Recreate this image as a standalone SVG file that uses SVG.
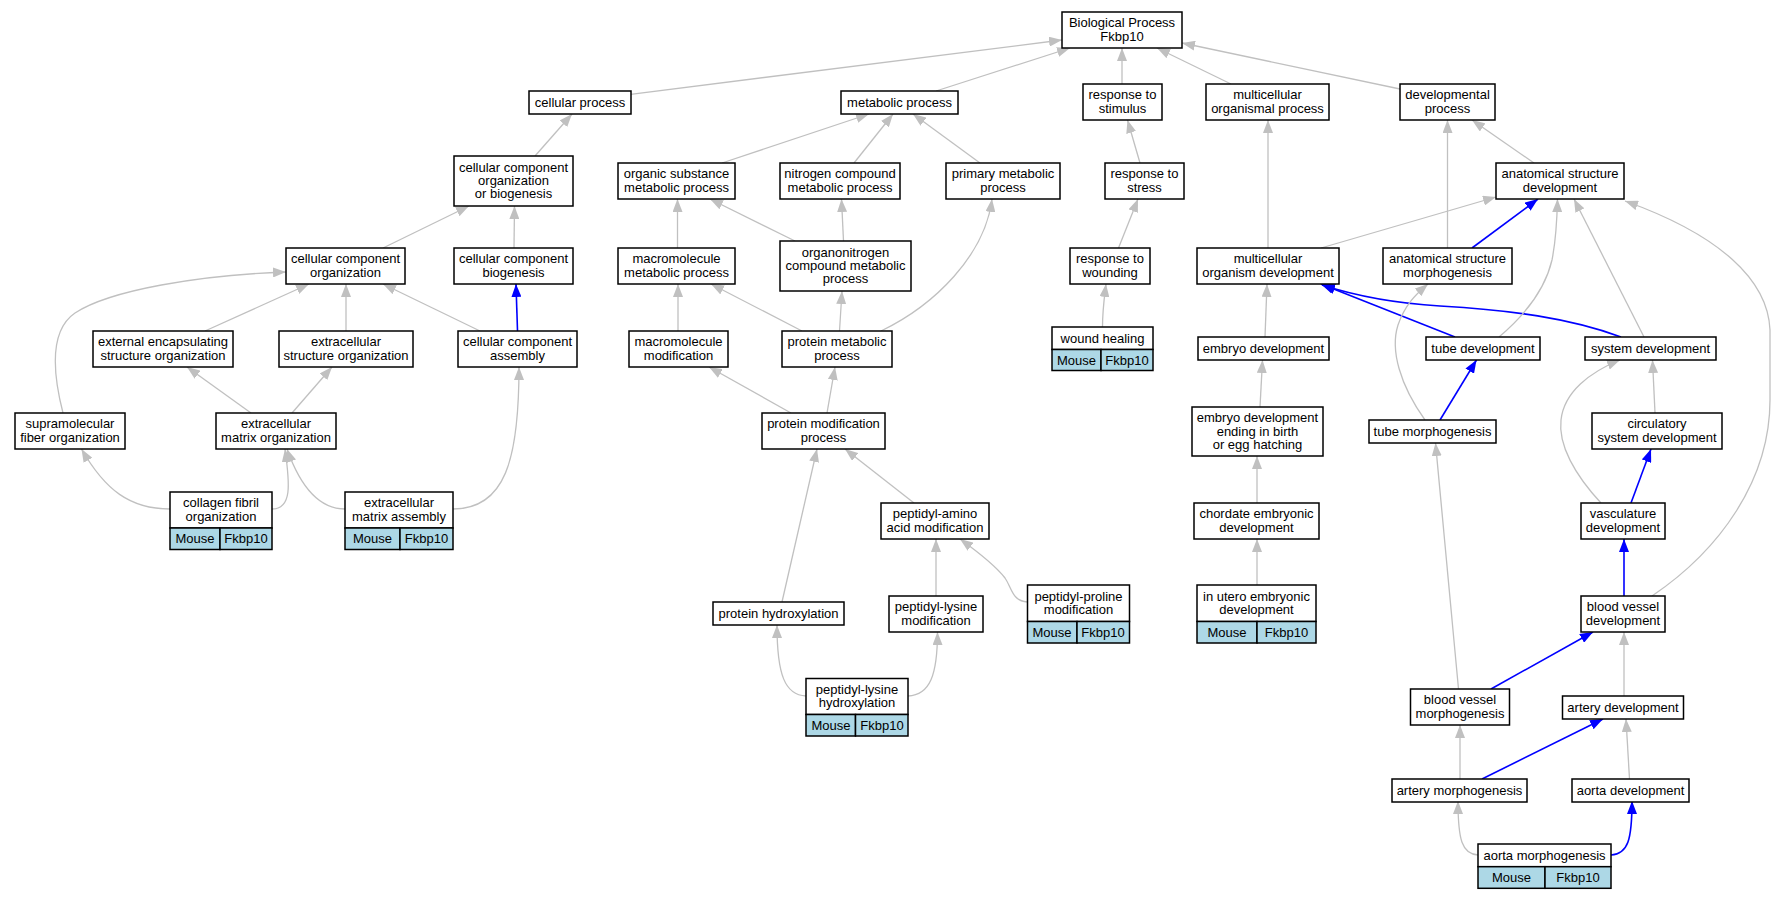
<svg xmlns="http://www.w3.org/2000/svg" width="1776" height="899" viewBox="0 0 1776 899">
<style>
.n{fill:#fff;stroke:#000;stroke-width:1.5}
.c{fill:#add8e6;stroke:#000;stroke-width:1.5}
text{font-family:"Liberation Sans",Arial,sans-serif;font-size:13px;fill:#000;text-anchor:middle}
.e{fill:none;stroke:#c0c0c0;stroke-width:1.3}
.b{fill:none;stroke:#0000ff;stroke-width:1.6}
.e{marker-end:url(#ag)}
.b{marker-end:url(#ab)}
</style>
<defs>
<marker id="ag" viewBox="0 0 13 10" refX="13" refY="5" markerWidth="13" markerHeight="10" markerUnits="userSpaceOnUse" orient="auto" preserveAspectRatio="none"><path d="M0,0L13,5L0,10z" fill="#c0c0c0"/></marker>
<marker id="ab" viewBox="0 0 13 10" refX="13" refY="5" markerWidth="13" markerHeight="10" markerUnits="userSpaceOnUse" orient="auto" preserveAspectRatio="none"><path d="M0,0L13,5L0,10z" fill="#0000ff"/></marker>
</defs>
<rect width="1776" height="899" fill="#fff"/>
<g id="connectors">
<path class="e" d="M630.6,94.3L1062,40"/>
<path class="e" d="M936,91L1070,48"/>
<path class="e" d="M1122,84L1122,48"/>
<path class="e" d="M1231,84L1157,48"/>
<path class="e" d="M1400,89L1182,43"/>
<path class="e" d="M535,156L572,114"/>
<path class="e" d="M722,163L869,114"/>
<path class="e" d="M854,163L893,114"/>
<path class="e" d="M980,163L913,114"/>
<path class="e" d="M1140,163L1127.5,120"/>
<path class="e" d="M1534,163L1472,120"/>
<path class="e" d="M383,248L469,206"/>
<path class="e" d="M514,248L514.5,206"/>
<path class="e" d="M677.5,248L677.5,199"/>
<path class="e" d="M795,241L710,199"/>
<path class="e" d="M843.5,241L841.5,199"/>
<path class="e" d="M1118.5,248L1138,199"/>
<path class="e" d="M1268,248L1268,120"/>
<path class="e" d="M1321,248L1496,197"/>
<path class="e" d="M1447.5,248L1447.5,120"/>
<path class="b" d="M1472,248L1538,199"/>
<path class="e" d="M205,331L309,284"/>
<path class="e" d="M346,331L346,284"/>
<path class="e" d="M480,331L383,284"/>
<path class="b" d="M517.5,331L516,284"/>
<path class="e" d="M678,331L678,284"/>
<path class="e" d="M802,331L711,284"/>
<path class="e" d="M839.5,331L842,291"/>
<path class="e" d="M881,331C935,305 985,255 992,199"/>
<path class="e" d="M1102.5,327C1102.5,310 1104,300 1106,284"/>
<path class="e" d="M1265,337L1267,284"/>
<path class="b" d="M1455,337L1321,284"/>
<path class="b" d="M1621,337C1570,318 1510,310 1440,306C1390,303 1350,294 1322,285"/>
<path class="e" d="M1499,337C1525,315 1545,290 1552,260C1556,240 1557,220 1557.5,199"/>
<path class="e" d="M1644,337L1574,199"/>
<path class="e" d="M1652,596C1720,550 1770,480 1770,400L1770,330C1768,280 1720,235 1625,201"/>
<path class="e" d="M1425,420C1400,385 1390,350 1398,325C1405,305 1415,295 1428,284"/>
<path class="e" d="M63,413C52,370 50,330 75,313C110,290 200,275 286,272"/>
<path class="e" d="M251,413L187,367"/>
<path class="e" d="M292,413L332,367"/>
<path class="e" d="M791,413L709,367"/>
<path class="e" d="M827,413L835,367"/>
<path class="b" d="M1440,420L1476.5,360"/>
<path class="e" d="M1260,407L1262.5,360"/>
<path class="e" d="M1655,413L1652.5,360"/>
<path class="e" d="M1601,503C1575,475 1558,445 1561,420C1564,392 1590,372 1620,360"/>
<path class="b" d="M1631,503L1651,449"/>
<path class="e" d="M170,509C130,509 105,490 81.5,449"/>
<path class="e" d="M272,509C292,509 290,485 285,449"/>
<path class="e" d="M345,509C315,509 298,480 287,449"/>
<path class="e" d="M453,509C505,509 519,460 519,367"/>
<path class="e" d="M914,503L845,449"/>
<path class="e" d="M782,602L817,449"/>
<path class="e" d="M936,596L936,539"/>
<path class="e" d="M1027.5,602C1012,601 1012,588 1005,578C995,565 978,552 960,539"/>
<path class="e" d="M1257,503L1257,456"/>
<path class="b" d="M1624,596L1624,539"/>
<path class="e" d="M1458.5,689L1435.5,443"/>
<path class="e" d="M1257,585L1257,539"/>
<path class="e" d="M806,696C785,695 777,675 777,625"/>
<path class="e" d="M908,696C930,695 937.5,675 937.5,632"/>
<path class="b" d="M1491,689L1593,632"/>
<path class="e" d="M1624,696L1624,632"/>
<path class="e" d="M1460,779L1460,725"/>
<path class="b" d="M1482,779L1603,719"/>
<path class="e" d="M1629.5,779L1626,719"/>
<path class="e" d="M1478,855C1462,854 1458,840 1458,801"/>
<path class="b" d="M1611,855C1628,854 1632,840 1632,801"/>
</g>
<g id="bp"><rect class="n" x="1062" y="12" width="120" height="36"/><text x="1122" y="27.3">Biological Process<tspan x="1122" dy="13.4">Fkbp10</tspan></text></g>
<g id="cellular_process"><rect class="n" x="529" y="91" width="102" height="23"/><text x="580" y="106.5">cellular process</text></g>
<g id="metabolic_process"><rect class="n" x="841" y="91" width="117" height="23"/><text x="899.5" y="106.5">metabolic process</text></g>
<g id="response_to_stimulus"><rect class="n" x="1083" y="84" width="79" height="36"/><text x="1122.5" y="99.3">response to<tspan x="1122.5" dy="13.4">stimulus</tspan></text></g>
<g id="multicellular_organismal_process"><rect class="n" x="1206" y="84" width="123" height="36"/><text x="1267.5" y="99.3">multicellular<tspan x="1267.5" dy="13.4">organismal process</tspan></text></g>
<g id="developmental_process"><rect class="n" x="1400" y="84" width="95" height="36"/><text x="1447.5" y="99.3">developmental<tspan x="1447.5" dy="13.4">process</tspan></text></g>
<g id="ccoob"><rect class="n" x="454" y="156" width="119" height="50"/><text x="513.5" y="171.6">cellular component<tspan x="513.5" dy="13.4">organization</tspan><tspan x="513.5" dy="13.4">or biogenesis</tspan></text></g>
<g id="organic_substance"><rect class="n" x="618" y="163" width="117" height="36"/><text x="676.5" y="178.3">organic substance<tspan x="676.5" dy="13.4">metabolic process</tspan></text></g>
<g id="nitrogen_compound"><rect class="n" x="780" y="163" width="120" height="36"/><text x="840" y="178.3">nitrogen compound<tspan x="840" dy="13.4">metabolic process</tspan></text></g>
<g id="primary_metabolic"><rect class="n" x="946" y="163" width="114" height="36"/><text x="1003" y="178.3">primary metabolic<tspan x="1003" dy="13.4">process</tspan></text></g>
<g id="response_to_stress"><rect class="n" x="1105" y="163" width="79" height="36"/><text x="1144.5" y="178.3">response to<tspan x="1144.5" dy="13.4">stress</tspan></text></g>
<g id="asd"><rect class="n" x="1496" y="163" width="128" height="36"/><text x="1560" y="178.3">anatomical structure<tspan x="1560" dy="13.4">development</tspan></text></g>
<g id="cc_organization"><rect class="n" x="286" y="248" width="119" height="36"/><text x="345.5" y="263.3">cellular component<tspan x="345.5" dy="13.4">organization</tspan></text></g>
<g id="cc_biogenesis"><rect class="n" x="454" y="248" width="119" height="36"/><text x="513.5" y="263.3">cellular component<tspan x="513.5" dy="13.4">biogenesis</tspan></text></g>
<g id="macromolecule_metabolic"><rect class="n" x="618" y="248" width="117" height="36"/><text x="676.5" y="263.3">macromolecule<tspan x="676.5" dy="13.4">metabolic process</tspan></text></g>
<g id="organonitrogen"><rect class="n" x="780" y="241" width="131" height="50"/><text x="845.5" y="256.6">organonitrogen<tspan x="845.5" dy="13.4">compound metabolic</tspan><tspan x="845.5" dy="13.4">process</tspan></text></g>
<g id="response_to_wounding"><rect class="n" x="1070" y="248" width="80" height="36"/><text x="1110" y="263.3">response to<tspan x="1110" dy="13.4">wounding</tspan></text></g>
<g id="mod"><rect class="n" x="1197" y="248" width="142" height="36"/><text x="1268" y="263.3">multicellular<tspan x="1268" dy="13.4">organism development</tspan></text></g>
<g id="asm"><rect class="n" x="1383" y="248" width="129" height="36"/><text x="1447.5" y="263.3">anatomical structure<tspan x="1447.5" dy="13.4">morphogenesis</tspan></text></g>
<g id="ext_encaps"><rect class="n" x="93" y="331" width="140" height="36"/><text x="163" y="346.3">external encapsulating<tspan x="163" dy="13.4">structure organization</tspan></text></g>
<g id="extracellular_structure"><rect class="n" x="279" y="331" width="134" height="36"/><text x="346" y="346.3">extracellular<tspan x="346" dy="13.4">structure organization</tspan></text></g>
<g id="cc_assembly"><rect class="n" x="458" y="331" width="119" height="36"/><text x="517.5" y="346.3">cellular component<tspan x="517.5" dy="13.4">assembly</tspan></text></g>
<g id="macromolecule_modification"><rect class="n" x="629" y="331" width="99" height="36"/><text x="678.5" y="346.3">macromolecule<tspan x="678.5" dy="13.4">modification</tspan></text></g>
<g id="protein_metabolic"><rect class="n" x="782" y="331" width="110" height="36"/><text x="837" y="346.3">protein metabolic<tspan x="837" dy="13.4">process</tspan></text></g>
<g id="wound_healing"><rect class="n" x="1052" y="327" width="101" height="22.5"/><rect class="c" x="1052" y="349.5" width="49" height="21"/><rect class="c" x="1101" y="349.5" width="52" height="21"/><text x="1102.5" y="342.5">wound healing</text><text x="1076.5" y="364.5">Mouse</text><text x="1127" y="364.5">Fkbp10</text></g>
<g id="embryo_development"><rect class="n" x="1198" y="337" width="131" height="23"/><text x="1263.5" y="352.5">embryo development</text></g>
<g id="tube_development"><rect class="n" x="1426" y="337" width="114" height="23"/><text x="1483" y="352.5">tube development</text></g>
<g id="system_development"><rect class="n" x="1585" y="337" width="131" height="23"/><text x="1650.5" y="352.5">system development</text></g>
<g id="supramolecular"><rect class="n" x="15" y="413" width="110" height="36"/><text x="70" y="428.3">supramolecular<tspan x="70" dy="13.4">fiber organization</tspan></text></g>
<g id="ecm_organization"><rect class="n" x="216" y="413" width="120" height="36"/><text x="276" y="428.3">extracellular<tspan x="276" dy="13.4">matrix organization</tspan></text></g>
<g id="protein_modification"><rect class="n" x="762" y="413" width="123" height="36"/><text x="823.5" y="428.3">protein modification<tspan x="823.5" dy="13.4">process</tspan></text></g>
<g id="embryo_dev_ending"><rect class="n" x="1192" y="407" width="131" height="49"/><text x="1257.5" y="422.3">embryo development<tspan x="1257.5" dy="13.4">ending in birth</tspan><tspan x="1257.5" dy="13.4">or egg hatching</tspan></text></g>
<g id="tube_morphogenesis"><rect class="n" x="1369" y="420" width="127" height="23"/><text x="1432.5" y="435.5">tube morphogenesis</text></g>
<g id="circulatory"><rect class="n" x="1592" y="413" width="130" height="36"/><text x="1657" y="428.3">circulatory<tspan x="1657" dy="13.4">system development</tspan></text></g>
<g id="collagen_fibril"><rect class="n" x="170" y="492" width="102" height="36"/><rect class="c" x="170" y="528" width="50" height="21.5"/><rect class="c" x="220" y="528" width="52" height="21.5"/><text x="221" y="507.3">collagen fibril<tspan x="221" dy="13.4">organization</tspan></text><text x="195" y="543">Mouse</text><text x="246" y="543">Fkbp10</text></g>
<g id="ecm_assembly"><rect class="n" x="345" y="492" width="108" height="36"/><rect class="c" x="345" y="528" width="55" height="21.5"/><rect class="c" x="400" y="528" width="53" height="21.5"/><text x="399" y="507.3">extracellular<tspan x="399" dy="13.4">matrix assembly</tspan></text><text x="372.5" y="543">Mouse</text><text x="426.5" y="543">Fkbp10</text></g>
<g id="peptidyl_amino"><rect class="n" x="881" y="503" width="108" height="36"/><text x="935" y="518.3">peptidyl-amino<tspan x="935" dy="13.4">acid modification</tspan></text></g>
<g id="chordate"><rect class="n" x="1194" y="503" width="125" height="36"/><text x="1256.5" y="518.3">chordate embryonic<tspan x="1256.5" dy="13.4">development</tspan></text></g>
<g id="vasculature"><rect class="n" x="1581" y="503" width="84" height="36"/><text x="1623" y="518.3">vasculature<tspan x="1623" dy="13.4">development</tspan></text></g>
<g id="protein_hydroxylation"><rect class="n" x="713" y="602" width="131" height="23"/><text x="778.5" y="617.5">protein hydroxylation</text></g>
<g id="peptidyl_lysine_mod"><rect class="n" x="889" y="596" width="94" height="36"/><text x="936" y="611.3">peptidyl-lysine<tspan x="936" dy="13.4">modification</tspan></text></g>
<g id="peptidyl_proline"><rect class="n" x="1027.5" y="585" width="102" height="36.5"/><rect class="c" x="1027.5" y="621.5" width="49.5" height="21.5"/><rect class="c" x="1077" y="621.5" width="52.5" height="21.5"/><text x="1078.5" y="600.5">peptidyl-proline<tspan x="1078.5" dy="13.4">modification</tspan></text><text x="1052" y="636.5">Mouse</text><text x="1103" y="636.5">Fkbp10</text></g>
<g id="in_utero"><rect class="n" x="1197" y="585" width="119" height="36.5"/><rect class="c" x="1197" y="621.5" width="60" height="21.5"/><rect class="c" x="1257" y="621.5" width="59" height="21.5"/><text x="1256.5" y="600.5">in utero embryonic<tspan x="1256.5" dy="13.4">development</tspan></text><text x="1227" y="636.5">Mouse</text><text x="1286.5" y="636.5">Fkbp10</text></g>
<g id="blood_vessel_development"><rect class="n" x="1581" y="596" width="84" height="36"/><text x="1623" y="611.3">blood vessel<tspan x="1623" dy="13.4">development</tspan></text></g>
<g id="peptidyl_lysine_hydroxylation"><rect class="n" x="806" y="678.5" width="102" height="36"/><rect class="c" x="806" y="714.5" width="49.5" height="21.5"/><rect class="c" x="855.5" y="714.5" width="52.5" height="21.5"/><text x="857" y="693.8">peptidyl-lysine<tspan x="857" dy="13.4">hydroxylation</tspan></text><text x="831" y="729.5">Mouse</text><text x="882" y="729.5">Fkbp10</text></g>
<g id="blood_vessel_morphogenesis"><rect class="n" x="1410.5" y="689" width="99" height="36"/><text x="1460" y="704.3">blood vessel<tspan x="1460" dy="13.4">morphogenesis</tspan></text></g>
<g id="artery_development"><rect class="n" x="1562.5" y="696" width="121" height="23"/><text x="1623" y="711.5">artery development</text></g>
<g id="artery_morphogenesis"><rect class="n" x="1392" y="779" width="135" height="23"/><text x="1459.5" y="794.5">artery morphogenesis</text></g>
<g id="aorta_development"><rect class="n" x="1572" y="779" width="117" height="23"/><text x="1630.5" y="794.5">aorta development</text></g>
<g id="aorta_morphogenesis"><rect class="n" x="1478" y="844" width="133" height="22.7"/><rect class="c" x="1478" y="866.7" width="67" height="21.6"/><rect class="c" x="1545" y="866.7" width="66" height="21.6"/><text x="1544.5" y="859.5">aorta morphogenesis</text><text x="1511.5" y="881.7">Mouse</text><text x="1578" y="881.7">Fkbp10</text></g>
</svg>
